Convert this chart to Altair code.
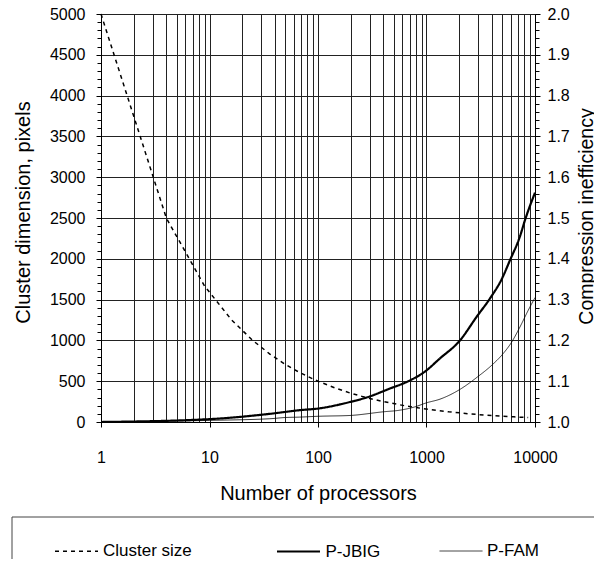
import altair as alt
import pandas as pd

# ---- data ----
cluster_n = [1, 4, 9, 16, 25, 36, 49, 64, 81, 100, 144, 196, 256, 324, 400, 625, 900,
             1600, 2500, 3600, 4900, 6400, 8649]
cluster_size = [5000, 2500, 1667, 1250, 1000, 833, 714, 625, 556, 500, 417, 357, 313, 278,
                250, 200, 167, 125, 100, 83, 71, 63, 54]

jbig_n = [1, 10, 36, 68, 100, 197, 280, 460, 680, 960, 1332, 2036, 2900, 3850, 4930, 5890,
          7270, 8090, 10000]
jbig_val = [1.0, 1.007, 1.02, 1.029, 1.033, 1.049, 1.060, 1.082, 1.10, 1.123, 1.156, 1.20,
            1.258, 1.303, 1.35, 1.397, 1.455, 1.495, 1.562]

fam_n = [1, 10, 36, 50, 68, 100, 197, 400, 570, 780, 1000, 1332, 2036, 3000, 3990, 5100,
         6100, 7270, 8670, 10000]
fam_val = [1.0, 1.004, 1.008, 1.011, 1.012, 1.014, 1.016, 1.025, 1.029, 1.037, 1.047, 1.056,
           1.080, 1.112, 1.139, 1.168, 1.196, 1.233, 1.274, 1.305]

series_names = ["Cluster size", "P-JBIG", "P-FAM"]
decades = [1, 10, 100, 1000, 10000]
log_ticks = [m * d for d in [1, 10, 100, 1000] for m in range(1, 10)] + [10000]
left_major = list(range(0, 5001, 500))
left_minor = list(range(0, 5001, 100))
right_major = [round(1 + i * 0.1, 2) for i in range(11)]
right_minor = [round(1 + i * 0.02, 2) for i in range(51)]

df_cluster = pd.DataFrame({"N": cluster_n, "value": cluster_size, "series": "Cluster size"})
df_ineff = pd.concat([
    pd.DataFrame({"N": jbig_n, "value": jbig_val, "series": "P-JBIG"}),
    pd.DataFrame({"N": fam_n, "value": fam_val, "series": "P-FAM"}),
])

FONT = "Liberation Sans"
GRID = "#222222"

dec_test = "indexof([1,10,100,1000,10000], datum.value) >= 0"

x_enc = alt.X(
    "N:Q",
    scale=alt.Scale(type="log", domain=[1, 10000], nice=False),
    axis=alt.Axis(
        values=log_ticks,
        grid=True, gridColor=GRID, gridWidth=1, gridOpacity=1,
        tickColor={"condition": {"test": dec_test, "value": "black"}, "value": "transparent"},
        tickSize=5,
        labelExpr=dec_test + " ? toString(datum.value) : ''",
        labelOverlap=False, labelFlush=False,
        labelFont=FONT, labelFontSize=16, labelColor="black", labelPadding=22,
        domainColor="black",
        title="Number of processors", titleFont=FONT, titleFontSize=20,
        titleFontWeight="normal", titleColor="black",
        titleBaseline="top", titleY=61,
    ),
)

blank = "\u2800"  # blank spacer glyph (not trimmed like whitespace)
label_expr = ("datum.label == 'P-FAM' ? datum.label + '" + blank * 30 + "' : "
              "(datum.label == 'Cluster size' ? datum.label + '" + blank * 2 + "' : datum.label)")

legend = alt.Legend(
    orient="none", legendX=-89.5, legendY=502.5, direction="horizontal",
    padding=12, strokeColor="#444444", fillColor="white",
    title="\u00a0", titleOrient="left", titlePadding=30.5, titleFontSize=17, titleFont=FONT,
    labelFont=FONT, labelFontSize=17, labelColor="black", labelOffset=4, labelLimit=0,
    labelExpr=label_expr,
    symbolType="stroke", symbolSize=1849, columnPadding=56.5,
)

color_enc = alt.Color("series:N", scale=alt.Scale(domain=series_names, range=["black"] * 3), legend=legend)
dash_enc = alt.StrokeDash("series:N", scale=alt.Scale(domain=series_names, range=[[4, 4], [1, 0], [1, 0]]), legend=legend)
width_enc = alt.StrokeWidth("series:N", scale=alt.Scale(type="ordinal", domain=series_names, range=[1.5, 2.2, 0.8]), legend=legend)

cluster = alt.Chart(df_cluster).mark_line().encode(
    x=x_enc,
    y=alt.Y("value:Q", scale=alt.Scale(domain=[0, 5000], nice=False),
            axis=alt.Axis(orient="left", values=left_major, format="d",
                          grid=True, gridColor=GRID, gridWidth=1,
                          tickSize=5, tickColor="black", domainColor="black",
                          labelFont=FONT, labelFontSize=16, labelColor="black", labelPadding=11,
                          title="Cluster dimension, pixels", titleFont=FONT, titleFontSize=20,
                          titleFontWeight="normal", titleColor="black", titleAngle=-90,
                          titleBaseline="top", titleAlign="center", titleX=-87.5, titleY=198)),
    color=color_enc, strokeDash=dash_enc, strokeWidth=width_enc,
)

cluster_minor = alt.Chart(df_cluster).mark_line(opacity=0).encode(
    x=x_enc,
    y=alt.Y("value:Q", scale=alt.Scale(domain=[0, 5000], nice=False),
            axis=alt.Axis(orient="left", values=left_minor, labels=False, grid=False,
                          domain=False, tickSize=4, tickColor="black", title=None)),
)

ineff = alt.Chart(df_ineff).mark_line(interpolate="monotone").encode(
    x=x_enc,
    y=alt.Y("value:Q", scale=alt.Scale(domain=[1, 2], nice=False),
            axis=alt.Axis(orient="right", values=right_major, format=".1f",
                          grid=False, tickSize=5, tickColor="black", domainColor="black",
                          labelFont=FONT, labelFontSize=16, labelColor="black", labelPadding=7,
                          title="Compression inefficiency", titleFont=FONT, titleFontSize=19.5,
                          titleFontWeight="normal", titleColor="black", titleAngle=-90,
                          titleBaseline="top", titleAlign="center", titleX=42, titleY=202)),
    color=color_enc, strokeDash=dash_enc, strokeWidth=width_enc,
)

ineff_minor = alt.Chart(df_ineff).mark_line(opacity=0).encode(
    x=x_enc,
    y=alt.Y("value:Q", scale=alt.Scale(domain=[1, 2], nice=False),
            axis=alt.Axis(orient="right", values=right_minor, labels=False, grid=False,
                          domain=False, tickSize=4, tickColor="black", title=None)),
)

chart = alt.layer(cluster, cluster_minor, ineff, ineff_minor).resolve_scale(
    y="independent"
).properties(
    width=434, height=408,
    autosize=alt.AutoSizeParams(type="none"),
    padding={"left": 93, "top": 6, "right": 59, "bottom": 137},
    background="white",
).configure_view(stroke=None)

chart.save("out.html", embed_options={"renderer": "svg", "actions": False})
